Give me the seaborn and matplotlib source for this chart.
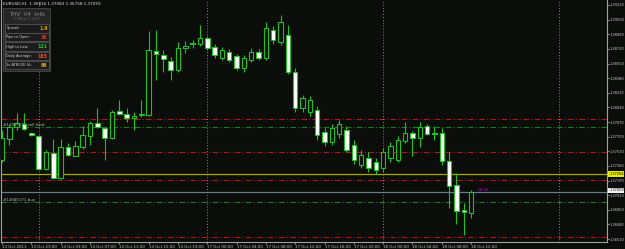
import numpy as np
import pandas as pd
import matplotlib
matplotlib.use("Agg")
import matplotlib.pyplot as plt
import matplotlib.transforms as mtransforms
from matplotlib.patches import Rectangle
import seaborn as sns

# ---------------- data ----------------
opens = [1.3743, 1.3767, 1.3781, 1.3785, 1.3774, 1.3771, 1.3733, 1.3751, 1.3722, 1.3758,
         1.3748, 1.3758, 1.3771, 1.3786, 1.3780, 1.3768, 1.3800, 1.3796, 1.3792, 1.3795,
         1.3795, 1.3870, 1.3865, 1.3858, 1.3847, 1.3873, 1.3879, 1.3878, 1.3885, 1.3874,
         1.3861, 1.3868, 1.3864, 1.3850, 1.3859, 1.3868, 1.3861, 1.3894, 1.3880, 1.3888,
         1.3845, 1.3803, 1.3799, 1.3801, 1.3775, 1.3764, 1.3773, 1.3778, 1.3760, 1.3737,
         1.3745, 1.3741, 1.3734, 1.3745, 1.3743, 1.3765, 1.3774, 1.3768, 1.3782, 1.3774,
         1.3774, 1.3742, 1.3714, 1.3685, 1.36816]
highs = [1.3778, 1.3784, 1.3798, 1.3798, 1.3775, 1.3772, 1.3754, 1.3767, 1.3767, 1.3763,
         1.3765, 1.3782, 1.3788, 1.3803, 1.3781, 1.3801, 1.3813, 1.3803, 1.3799, 1.3813,
         1.3893, 1.3894, 1.3871, 1.3863, 1.3880, 1.3881, 1.3882, 1.3900, 1.3887, 1.3878,
         1.3874, 1.3872, 1.3866, 1.3865, 1.3873, 1.3872, 1.3903, 1.3899, 1.3911, 1.3900,
         1.3850, 1.3818, 1.3817, 1.3806, 1.3780, 1.3785, 1.3789, 1.3782, 1.3766, 1.3755,
         1.3752, 1.3745, 1.3757, 1.3764, 1.3771, 1.3787, 1.3777, 1.3787, 1.3785, 1.3782,
         1.3780, 1.3752, 1.3728, 1.3693, 1.37083]
lows = [1.3741, 1.3760, 1.3778, 1.3778, 1.3771, 1.3731, 1.3731, 1.3721, 1.3721, 1.3748,
        1.3747, 1.3756, 1.3760, 1.3780, 1.3743, 1.3767, 1.3795, 1.3787, 1.3778, 1.3793,
        1.3794, 1.3836, 1.3845, 1.3836, 1.3845, 1.3867, 1.3873, 1.3875, 1.3871, 1.3861,
        1.3859, 1.3857, 1.3847, 1.3845, 1.3857, 1.3859, 1.3859, 1.3878, 1.3876, 1.3843,
        1.3799, 1.3799, 1.3794, 1.3766, 1.3759, 1.3760, 1.3768, 1.3752, 1.3738, 1.3734,
        1.3729, 1.3727, 1.3729, 1.3741, 1.3741, 1.3763, 1.3747, 1.3758, 1.3772, 1.3766,
        1.3737, 1.3687, 1.3668, 1.3656, 1.36758]
closes = [1.3768, 1.3781, 1.3786, 1.3779, 1.3772, 1.3733, 1.3752, 1.3722, 1.3758, 1.3749,
          1.3759, 1.3772, 1.3786, 1.3781, 1.3768, 1.3799, 1.3796, 1.3792, 1.3794, 1.3796,
          1.3871, 1.3866, 1.3860, 1.3847, 1.3873, 1.3875, 1.3878, 1.3885, 1.3873, 1.3865,
          1.3871, 1.3859, 1.3850, 1.3861, 1.3868, 1.3861, 1.3896, 1.3882, 1.3903, 1.3845,
          1.3803, 1.3815, 1.3813, 1.3772, 1.3764, 1.3780, 1.3785, 1.3755, 1.3743, 1.3749,
          1.3734, 1.3731, 1.3752, 1.3759, 1.3766, 1.3774, 1.3768, 1.3781, 1.3773, 1.3773,
          1.3742, 1.3713, 1.3684, 1.3682, 1.37059]

time_tick_bars = [0, 4, 8, 12, 16, 20, 24, 28, 32, 36, 40, 44, 48, 52, 56, 60, 64]
time_tick_labels = ["13 Oct 2011", "13 Oct 23:00", "14 Oct 03:00", "14 Oct 07:00",
                    "14 Oct 11:00", "14 Oct 15:00", "14 Oct 19:00", "17 Oct 00:00",
                    "17 Oct 04:00", "17 Oct 08:00", "17 Oct 12:00", "17 Oct 16:00",
                    "17 Oct 20:00", "18 Oct 00:00", "18 Oct 04:00", "18 Oct 08:00",
                    "18 Oct 12:00"]
price_ticks = [1.36510, 1.36680, 1.36850, 1.37020, 1.37190, 1.37360, 1.37530, 1.37700,
               1.37870, 1.38040, 1.38210, 1.38380, 1.38550, 1.38720, 1.38890, 1.39060,
               1.39230]
day_separator_bars = [5, 28, 52, 76]
red_levels = [1.37905, 1.37522, 1.37197, 1.36534]
green_levels = [1.37812, 1.36940]
yellow_level = 1.37264
bid_level = 1.37059

header = "EURUSD,H1  1.36816 1.37083 1.36758 1.37059"
info_rows = ["Spread:", "Pips to Open:", "High to Low:", "Daily Average:", "3x ATR(20) SL:"]
info_values = ["1.9", "38", "131", "185", "86"]
info_colors = ["#e0a010", "#e03020", "#20c020", "#e05020", "#d8a020"]

# ---------------- style ----------------
BG = "#0a0d0a"
GREEN = "#1fc01f"
sns.set_theme(style="dark", rc={"axes.facecolor": BG, "figure.facecolor": BG})
plt.rcParams["font.family"] = ["DejaVu Sans"]

W, H = 625, 249
fig = plt.figure(figsize=(W / 100, H / 100), dpi=100)
ax = fig.add_axes([1 / W, 7 / H, 606 / W, 242 / H])
ax.set_facecolor(BG)

df = pd.DataFrame({"open": opens, "high": highs, "low": lows, "close": closes})
df["i"] = np.arange(len(df))
df["bull"] = df["close"] >= df["open"]
df["bottom"] = df[["open", "close"]].min(axis=1)
df["height"] = (df["close"] - df["open"]).abs().clip(lower=0.00002)

# horizontal levels
for lv in red_levels:
    ax.axhline(lv, color="#b01818", lw=0.8, ls=(0, (5, 2, 1, 2)), zorder=1)
for lv in green_levels:
    ax.axhline(lv, color="#1f7a1f", lw=0.8, ls=(0, (5, 2, 1, 2)), zorder=1)
ax.axhline(yellow_level, color="#a8a800", lw=0.9, zorder=1)
ax.axhline(bid_level, color="#6a7890", lw=0.9, zorder=1)
for b in day_separator_bars:
    ax.axvline(b, color="#8a8a8a", lw=0.7, ls=(0, (1, 2)), zorder=1)

# candles
ax.vlines(df["i"], df["low"], df["high"], color=GREEN, lw=0.8, zorder=2)
faces = np.where(df["bull"], BG, "#ffffff")
ax.bar(df["i"], df["height"], bottom=df["bottom"], width=0.62, color=faces,
       edgecolor=GREEN, linewidth=0.8, zorder=3)

ax.set_xlim(-0.136, 82.54)
ax.set_ylim(1.36476, 1.39288)

# axes cosmetics
ax.yaxis.tick_right()
ax.set_yticks(price_ticks)
ax.set_yticklabels([f"{p:.5f}" for p in price_ticks])
ax.set_xticks(time_tick_bars)
ax.set_xticklabels(time_tick_labels, ha="left")
ax.tick_params(axis="both", colors="#b0b0b0", labelcolor="#c8c8c8", labelsize=2.9,
               length=1.5, width=0.6, pad=0.8, direction="out")
ax.tick_params(axis="y", right=True, left=False, pad=0.4, labelsize=2.6)
ax.tick_params(axis="x", bottom=True, pad=0.6)
ax.grid(False)
ax.spines["top"].set_visible(False)
for s in ["right", "bottom", "left"]:
    ax.spines[s].set_visible(True)
    ax.spines[s].set_color("#a0a0a0")
    ax.spines[s].set_linewidth(0.8)
ax.set_xlabel("")
ax.set_ylabel("")


def fx(x):
    return x / W


def fy(y):
    return 1 - y / H


blend = mtransforms.blended_transform_factory(ax.transAxes, ax.transData)

# header
fig.text(fx(3), fy(4), header, color="#e0e0e0", fontsize=3.0, va="center", ha="left")

# order labels
ax.text(0.004, green_levels[0] + 0.00002, "#14945171 sell limit", transform=blend,
        color="#b8b8b8", fontsize=2.9, va="bottom", ha="left")
ax.text(0.004, green_levels[1] + 0.00002, "#14945171 buy", transform=blend,
        color="#b8b8b8", fontsize=2.9, va="bottom", ha="left")

# countdown text near last candle
ax.text(0.786, bid_level + 0.00002, "38:18", transform=blend, color="#b000b0",
        fontsize=2.9, va="bottom", ha="left")

# price labels on right axis
ax.text(1.0035, yellow_level, f"{yellow_level:.5f}", transform=blend, color="#000000",
        fontsize=2.5, va="center", ha="left",
        bbox=dict(boxstyle="square,pad=0.2", fc="#e8e800", ec="none"), clip_on=False)
ax.text(1.0035, bid_level + 0.00018, f"{bid_level:.5f}", transform=blend, color="#000000",
        fontsize=2.5, va="center", ha="left",
        bbox=dict(boxstyle="square,pad=0.2", fc="#f0f0f0", ec="none"), clip_on=False)

# info panel
panel = Rectangle((fx(3), fy(71)), fx(47), 63 / H, transform=fig.transFigure,
                  fc="#262626", ec="#4a4a4a", lw=0.6, zorder=5)
fig.patches.append(panel)
fig.text(fx(26.5), fy(14), "THV  V4  Info", color="#8a8a8a", fontsize=4.0,
         ha="center", va="center", zorder=6)
fig.text(fx(26.5), fy(19.5), "\u00a9 Pieter C in FF", color="#6a6a6a", fontsize=2.4,
         ha="center", va="center", zorder=6)
row_tops = [24, 33, 42.5, 52, 61]
for k, (lab, val, col) in enumerate(zip(info_rows, info_values, info_colors)):
    top = row_tops[k]
    r = Rectangle((fx(4.5), fy(top + 8.5)), fx(44), 8.5 / H, transform=fig.transFigure,
                  fc="#1c1c1c", ec="#5a5a5a", lw=0.5, zorder=6)
    fig.patches.append(r)
    fig.text(fx(6.5), fy(top + 4.4), lab, color="#d8d8d8", fontsize=2.5,
             ha="left", va="center", zorder=7)
    fig.text(fx(47.5), fy(top + 4.4), val, color=col, fontsize=3.4, fontweight="bold",
             ha="right", va="center", zorder=7)

fig.savefig("out.png", dpi=100, facecolor=BG)
